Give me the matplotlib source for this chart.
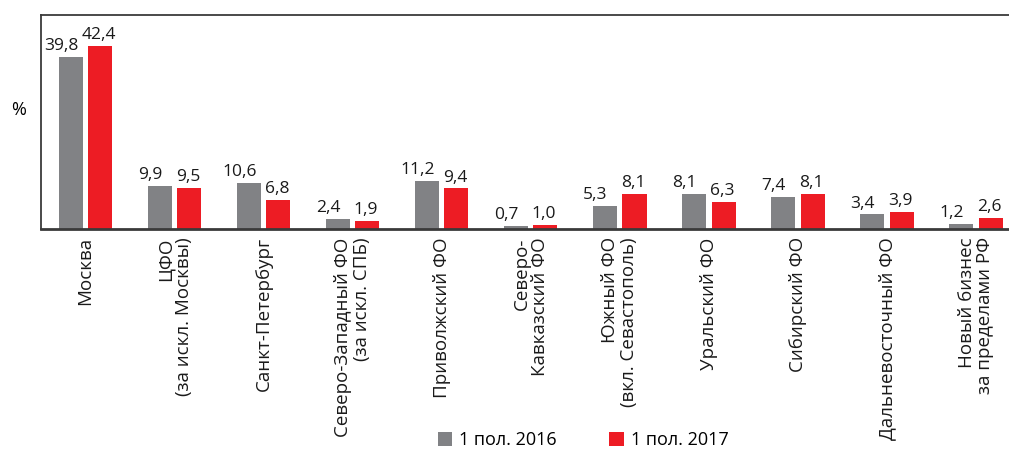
import matplotlib.pyplot as plt
import numpy as np

# Data
regions = ['Москва', 'ЦФО\n(за искл. Москвы)', 'Санкт-Петербург',
           'Северо-Западный ФО\n(за искл. СПБ)', 'Приволжский ФО',
           'Северо-\nКавказский ФО', 'Южный ФО\n(вкл. Севастополь)',
           'Уральский ФО', 'Сибирский ФО', 'Дальневосточный ФО',
           'Новый бизнес\nза пределами РФ']
h1_2016 = [39.8, 9.9, 10.6, 2.4, 11.2, 0.7, 5.3, 8.1, 7.4, 3.4, 1.2]
h1_2017 = [42.4, 9.5, 6.8, 1.9, 9.4, 1.0, 8.1, 6.3, 8.1, 3.9, 2.6]
series_names = ['1 пол. 2016', '1 пол. 2017']

gray = '#818285'
red = '#ED1C24'
spine = '#3a3a3a'

plt.rcParams['font.family'] = ['Open Sans', 'DejaVu Sans']

fig = plt.figure(figsize=(10.09, 4.54), dpi=100)
ax = fig.add_axes([0.0406, 0.4956, 0.9594, 0.4714])

x = np.arange(len(regions))
w = 0.27
off = 0.165
b1 = ax.bar(x - off, h1_2016, w, color=gray, label=series_names[0])
b2 = ax.bar(x + off, h1_2017, w, color=red, label=series_names[1])

# value labels: the gray ones sit a little to the left of their bars
for bars, dx in ((b1, -7), (b2, -1)):
    for r in bars:
        v = r.get_height()
        ax.annotate('{:.1f}'.format(v).replace('.', ','),
                    (r.get_x() + r.get_width() / 2, v),
                    xytext=(dx, 2), textcoords='offset points',
                    ha='center', va='bottom', fontsize=12.5, color='#1a1a1a')

ax.set_xlim(-0.5, 10.37)
ax.set_ylim(0, 49.5)
ax.set_yticks([])
ax.set_xticks(x)
ax.set_xticklabels(regions, rotation=90, ha='center', va='top',
                   multialignment='right', fontsize=13.5, color='#1a1a1a',
                   linespacing=1.05)
ax.tick_params(axis='x', length=0, pad=6)

ax.spines['right'].set_visible(False)
for s in ('top', 'left'):
    ax.spines[s].set_color(spine)
    ax.spines[s].set_linewidth(1.3)
ax.spines['bottom'].set_color(spine)
ax.spines['bottom'].set_linewidth(2)

fig.text(0.018, 0.757, '%', fontsize=13, ha='center', va='center')

fig.legend(handles=[b1, b2], loc='center', bbox_to_anchor=(0.578, 0.03),
           ncol=2, frameon=False, fontsize=13, handlelength=0.8,
           handleheight=0.8, columnspacing=2.9, handletextpad=0.4,
           borderpad=0)

plt.savefig('out.png', dpi=100)
